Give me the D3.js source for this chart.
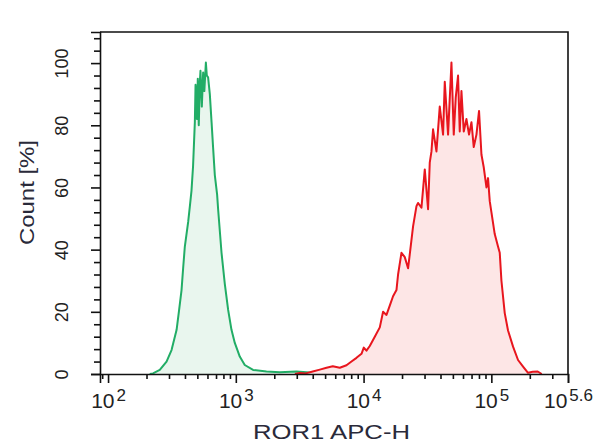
<!DOCTYPE html>
<html>
<head>
<meta charset="utf-8">
<script src="https://cdn.jsdelivr.net/npm/d3@7"></script>
<style>
    body { margin: 0; background: #fff; }
    svg { display: block; font-family: "Liberation Sans", Arial, sans-serif; }
</style>
</head>
<body>
<svg id="histo" width="600" height="448"></svg>
<script>
// channel values (ROR1 APC-H) and count [%]
const greenX = [212, 225, 254, 287, 314, 344, 360, 376, 387, 399, 424, 437, 450, 463, 478, 484, 496, 504, 513, 523, 529, 542, 555, 567, 583, 593, 607, 626, 646, 664, 685, 714, 727, 773, 820, 871, 925, 982, 1074, 1175, 1365, 1738, 2208, 2983, 3573, 4150, 4500];
const greenY = [0, 0.2, 1.3, 4, 7.7, 14.2, 20.6, 27, 34, 41, 49, 54, 59, 67, 81, 93, 82, 95, 80, 94, 97.5, 86, 97, 91, 100.2, 96, 95.4, 90, 81, 72.9, 64, 57.7, 53, 39, 29, 20.6, 14.2, 10, 5.6, 2.9, 1.3, 0.8, 0.6, 0.8, 0.6, 0.3, 0];

const redX = [2900, 3168, 3529, 4003, 4543, 5126, 5741, 6514, 7348, 8042, 8800, 9630, 10037, 10537, 11183, 12238, 13393, 14212, 15110, 16033, 17012, 18088, 18620, 19800, 21014, 22298, 22990, 24400, 25940, 26700, 28390, 30130, 31970, 32960, 33990, 34980, 37190, 39470, 41900, 43200, 45840, 48730, 50800, 52660, 54890, 56590, 58350, 60820, 63860, 66910, 69870, 72820, 76450, 80120, 83650, 87190, 91550, 94240, 97160, 100180, 106300, 112800, 116340, 119950, 127320, 135100, 147880, 161800, 177100, 193700, 210900, 230700, 247900];
const redY = [0, 0.3, 0.2, 0.8, 1.4, 2, 2.5, 2, 2.8, 4, 5.2, 6.5, 8.5, 7.5, 9, 12, 15, 20, 19, 22, 25, 27, 32, 39, 37.6, 34, 38.5, 47.5, 54, 55, 53.5, 65.8, 53, 68, 71.6, 78.7, 71.6, 86, 77, 94, 77, 100.2, 77, 89, 96, 78, 91, 78, 82, 77, 81, 73, 77, 84.6, 70.6, 66.5, 60, 63, 55.6, 52, 45, 41, 39, 30, 19.6, 14, 8.8, 4.5, 2.4, 0.4, 0.7, 0.8, 0];

const xTickExps = [2, 3, 4, 5, 5.6];
const yTicks = [0, 20, 40, 60, 80, 100];
const xLabel = "ROR1 APC-H";
const yLabel = "Count [%]";

const margin = { top: 32, right: 32, bottom: 74, left: 100 };
const width = 600 - margin.left - margin.right;
const height = 448 - margin.top - margin.bottom;

const xScale = d3.scaleLog()
    .domain([86.5, Math.pow(10, 5.6)])
    .range([0, width]);

const yScale = d3.scaleLinear()
    .domain([0, 110])
    .range([height, 0]);

const svg = d3.select("#histo");
const g = svg.append("g")
    .attr("transform", "translate(" + margin.left + "," + margin.top + ")");

const area = d3.area()
    .x(d => xScale(d[0]))
    .y0(yScale(0))
    .y1(d => yScale(d[1]));

const line = d3.line()
    .x(d => xScale(d[0]))
    .y(d => yScale(d[1]));

const series = [
    { xs: greenX, ys: greenY, stroke: "#22ad66", fill: "#e9f6ee" },
    { xs: redX, ys: redY, stroke: "#e8161e", fill: "#fde6e6" }
];

series.forEach(s => {
    let pts = s.xs.map((x, i) => [x, s.ys[i]]);
    g.append("path")
        .datum(pts)
        .attr("d", area)
        .attr("fill", s.fill);
    g.append("path")
        .datum(pts)
        .attr("d", line)
        .attr("fill", "none")
        .attr("stroke", s.stroke)
        .attr("stroke-width", 2)
        .attr("stroke-linejoin", "round");
});

// frame top and right
g.append("path")
    .attr("d", "M0,0H" + width + "V" + height)
    .attr("fill", "none")
    .attr("stroke", "#111")
    .attr("stroke-width", 1.6);

// minor ticks
let minorX = [];
for (let e = 1; e <= 5; e++) {
    for (let m = 2; m <= 9; m++) {
        let v = m * Math.pow(10, e);
        if (v >= xScale.domain()[0] && v <= xScale.domain()[1]) minorX.push(v);
    }
}
let minorY = d3.range(0, 110, 4).filter(v => v % 20 !== 0);

g.append("g")
    .attr("transform", "translate(0," + height + ")")
    .call(d3.axisBottom(xScale).tickValues(minorX).tickSize(5).tickSizeOuter(0).tickFormat(""))
    .call(a => a.select(".domain").remove());

g.append("g")
    .call(d3.axisLeft(yScale).tickValues(minorY).tickSize(6).tickSizeOuter(0).tickFormat(""))
    .call(a => a.select(".domain").remove());

// major x axis
let xAxis = g.append("g")
    .attr("transform", "translate(0," + height + ")")
    .call(d3.axisBottom(xScale)
        .tickValues(xTickExps.map(e => Math.pow(10, e)))
        .tickSize(9)
        .tickSizeOuter(9)
        .tickFormat(""));

xAxis.selectAll(".tick text").remove();
xAxis.selectAll(".tick")
    .append("text")
    .attr("y", 34)
    .attr("fill", "#222")
    .attr("text-anchor", "middle")
    .each(function (d, i) {
        let t = d3.select(this);
        t.append("tspan").attr("font-size", 21).text("10");
        t.append("tspan")
            .attr("font-size", 17)
            .attr("dx", 2)
            .attr("dy", -7)
            .text(xTickExps[i]);
    });

// major y axis
let yAxis = g.append("g")
    .call(d3.axisLeft(yScale).tickValues(yTicks).tickSize(9).tickSizeOuter(9));

yAxis.selectAll(".tick text")
    .attr("x", 0)
    .attr("dy", 0)
    .attr("font-size", 18)
    .attr("fill", "#222")
    .attr("text-anchor", "middle")
    .attr("transform", "translate(-32,0) rotate(-90)");

g.selectAll(".domain, .tick line")
    .attr("stroke", "#111")
    .attr("stroke-width", 1.6);

// axis titles
svg.append("text")
    .attr("x", 331.5)
    .attr("y", 439)
    .attr("text-anchor", "middle")
    .attr("font-size", 21)
    .attr("fill", "#2a2a3a")
    .attr("textLength", 157)
    .attr("lengthAdjust", "spacingAndGlyphs")
    .text(xLabel);

svg.append("text")
    .attr("transform", "translate(34,192.5) rotate(-90)")
    .attr("text-anchor", "middle")
    .attr("font-size", 20)
    .attr("fill", "#2a2a3a")
    .attr("textLength", 105)
    .attr("lengthAdjust", "spacingAndGlyphs")
    .text(yLabel);
</script>
</body>
</html>
